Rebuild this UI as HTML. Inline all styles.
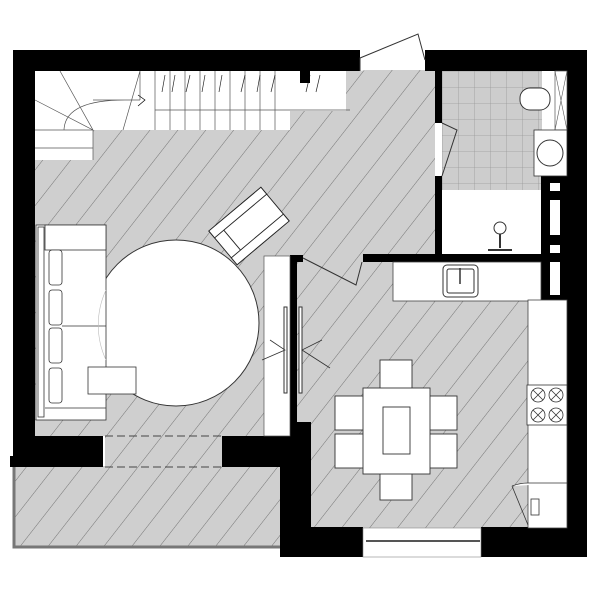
<!DOCTYPE html>
<html><head><style>html,body{margin:0;padding:0;background:#fff}svg{display:block}</style></head>
<body>
<svg width="600" height="600" viewBox="0 0 600 600" xmlns="http://www.w3.org/2000/svg">
<defs>
<pattern id="h" width="22" height="22" patternUnits="userSpaceOnUse" patternTransform="rotate(38)">
<rect width="22" height="22" fill="#cfcfcf"/>
<line x1="0" y1="0" x2="0" y2="22" stroke="#6a6a6a" stroke-width="0.9"/>
</pattern>
<pattern id="t" width="16" height="16" patternUnits="userSpaceOnUse" x="442" y="71">
<rect width="16" height="16" fill="#cdcdcd"/>
<path d="M0 0H16M0 0V16" stroke="#999" stroke-width="0.8" fill="none"/>
</pattern>
</defs>
<rect x="35" y="70" width="400" height="366" fill="url(#h)"/>
<rect x="105" y="436" width="118" height="32" fill="url(#h)"/>
<rect x="13" y="466" width="268" height="81" fill="url(#h)"/>
<rect x="297" y="262" width="232" height="266" fill="url(#h)"/>
<rect x="442" y="71" width="100" height="119" fill="url(#t)"/>
<rect x="442" y="190" width="100" height="65" fill="#fff"/>
<g fill="#fff" stroke="#555" stroke-width="0.7">
<rect x="35" y="71" width="255" height="59" stroke="none"/>
<rect x="35" y="130" width="58" height="30" stroke="none"/>
<rect x="290" y="71" width="56" height="40" stroke="none"/>
<path d="M93 130V160M35 148H93M35 130H93M93 100H140M35 100L93 130M60 71L93 130M140 71L123 130M140 71V100M155 71V130M170 71V130M185 71V130M200 71V130M215 71V130M230 71V130M245 71V130M260 71V130M275 71V130M155 110H350M125 100Q65 100 64 130" fill="none"/>
<path d="M138 95L145 100L138 106" fill="none" stroke="#000"/>
<path d="M165 75L162 92M175 75L172 92M190 75L186 92M205 75L202 92M222 75L219 92M245 75L241 92M260 75L257 92M275 75L271 92M310 75L306 92M320 75L316 92" stroke="#222"/>
</g>
<g fill="#000">
<rect x="13" y="50" width="347" height="21"/>
<rect x="300" y="50" width="10" height="33"/>
<rect x="425" y="50" width="162" height="21"/>
<rect x="13" y="50" width="22" height="417"/>
<rect x="10" y="456" width="93" height="11"/>
<rect x="13" y="436" width="90" height="31"/>
<rect x="222" y="436" width="75" height="31"/>
<rect x="435" y="71" width="7" height="52"/>
<rect x="435" y="176" width="7" height="86"/>
<rect x="363" y="254" width="180" height="8"/>
<rect x="290" y="255" width="13" height="7"/>
<rect x="290" y="255" width="7" height="182"/>
<rect x="280" y="422" width="31" height="135"/>
<rect x="280" y="527" width="83" height="30"/>
<rect x="481" y="527" width="106" height="30"/>
<rect x="567" y="50" width="20" height="507"/>
<rect x="541" y="175" width="26" height="145"/>
</g>
<g fill="#fff"><rect x="550" y="183" width="10" height="8"/><rect x="550" y="200" width="10" height="35"/><rect x="550" y="245" width="10" height="8"/><rect x="550" y="262" width="10" height="33"/><rect x="550" y="305" width="10" height="7"/></g>
<path d="M360 71V58L418 34L425 60" fill="#fff" stroke="#333" stroke-width="1"/>
<path d="M442 123L457 130L442 176" fill="none" stroke="#333"/>
<rect x="555" y="71" width="12" height="59" fill="#fff" stroke="#555" stroke-width="0.7"/>
<path d="M555 71L567 130M567 71L555 130" stroke="#555" stroke-width="0.6"/>
<rect x="520" y="88" width="30" height="22" rx="10" fill="#fff" stroke="#333"/>
<rect x="534" y="130" width="33" height="46" fill="#fff" stroke="#333" stroke-width="0.8"/>
<circle cx="550" cy="153" r="13" fill="#fff" stroke="#333"/>
<circle cx="500" cy="228" r="6" fill="#fff" stroke="#333"/>
<path d="M500 234V248M488 250H512" stroke="#333" stroke-width="2"/>
<rect x="393" y="262" width="148" height="39" fill="#fff" stroke="#444" stroke-width="0.8"/>
<rect x="528" y="300" width="39" height="228" fill="#fff" stroke="#444" stroke-width="0.8"/>
<rect x="443" y="265" width="35" height="32" rx="4" fill="#fff" stroke="#333"/>
<rect x="447" y="269" width="27" height="24" rx="2" fill="none" stroke="#333"/>
<path d="M460 268V284" stroke="#333" stroke-width="1.5"/>
<g fill="#fff" stroke="#333" stroke-width="0.8">
<rect x="527" y="385" width="40" height="40"/>
<circle cx="538" cy="395" r="7"/><circle cx="556" cy="395" r="7"/><circle cx="538" cy="415" r="7"/><circle cx="556" cy="415" r="7"/>
<path d="M533 390l10 10M543 390l-10 10M551 390l10 10M561 390l-10 10M533 410l10 10M543 410l-10 10M551 410l10 10M561 410l-10 10"/>
<path d="M512 486Q520 483 528 483H567M512 486L528 525"/>
<rect x="531" y="499" width="8" height="16"/>
</g>
<path d="M303 258L356 285L362 262" fill="none" stroke="#333"/>
<rect x="264" y="256" width="26" height="180" fill="#fff" stroke="#555" stroke-width="0.7"/>
<rect x="284" y="307" width="3" height="86" fill="#fff" stroke="#333"/>
<rect x="299" y="307" width="3" height="86" fill="#fff" stroke="#333"/>
<path d="M270 340L285 350L262 360M322 340L302 350L330 368" fill="none" stroke="#333" stroke-width="0.8"/>
<rect x="363" y="528" width="118" height="29" fill="#fff" stroke="#888" stroke-width="0.6"/>
<path d="M366 541H480" stroke="#555" stroke-width="2"/>
<path d="M14 467V547H280" fill="none" stroke="#777" stroke-width="3"/>
<path d="M105 436H222M105 467H222" stroke="#444" stroke-dasharray="8 4"/>
<circle cx="176" cy="323" r="83" fill="#fff" stroke="#333"/>
<g fill="#fff" stroke="#333" stroke-width="0.8">
<rect x="36" y="225" width="70" height="195"/>
<rect x="38" y="227" width="6" height="190"/>
<rect x="45" y="225" width="61" height="25"/>
<rect x="49" y="250" width="13" height="35" rx="3"/>
<rect x="49" y="290" width="13" height="35" rx="3"/>
<rect x="49" y="328" width="13" height="35" rx="3"/>
<rect x="49" y="368" width="13" height="35" rx="3"/>
<path d="M62 326H106M45 408H106"/>
</g>
<path d="M106 290A83 83 0 0 0 106 360" fill="none" stroke="#bbb" stroke-width="0.6"/>
<rect x="88" y="367" width="48" height="27" fill="#fff" stroke="#333" stroke-width="0.8"/>
<g transform="translate(249 226) rotate(-40)" fill="#fff" stroke="#222" stroke-width="0.9">
<rect x="-34" y="-22" width="68" height="44"/>
<rect x="-34" y="-22" width="68" height="9"/>
<rect x="-34" y="13" width="68" height="9"/>
<path d="M-22 -13V13"/>
</g>
<g fill="#fff" stroke="#333" stroke-width="0.9">
<rect x="380" y="360" width="32" height="34"/>
<rect x="380" y="466" width="32" height="34"/>
<rect x="335" y="396" width="33" height="34"/>
<rect x="335" y="434" width="33" height="34"/>
<rect x="423" y="396" width="34" height="34"/>
<rect x="423" y="434" width="34" height="34"/>
<rect x="363" y="388" width="67" height="86"/>
<rect x="383" y="407" width="27" height="47"/>
</g>
</svg>
</body></html>
